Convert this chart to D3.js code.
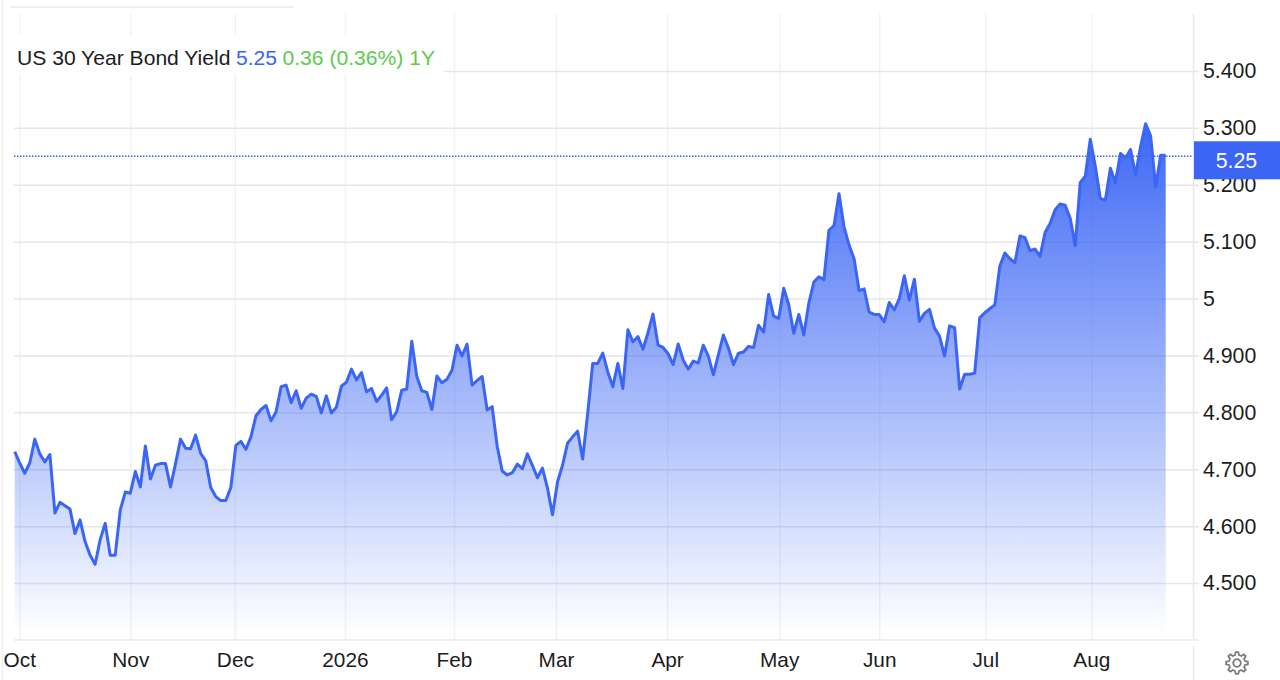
<!DOCTYPE html>
<html>
<head>
<meta charset="utf-8">
<title>US 30 Year Bond Yield</title>
<script src="https://cdn.jsdelivr.net/npm/d3@7"></script>
<style>
  html, body { margin: 0; padding: 0; background: #fff; }
  svg { display: block; }
  text { font-family: "Liberation Sans", Arial, sans-serif; }
  .domain { display: none; }
</style>
</head>
<body>
<svg id="chart" width="1280" height="680"></svg>
<script>
'use strict';

const yieldValues = [
  4.731, 4.711, 4.693, 4.711, 4.753, 4.727, 4.713, 4.726, 4.623, 4.642,
  4.636, 4.630, 4.587, 4.611, 4.573, 4.549, 4.533, 4.576, 4.605, 4.549,
  4.549, 4.628, 4.660, 4.658, 4.696, 4.669, 4.741, 4.683, 4.707, 4.710,
  4.710, 4.669, 4.710, 4.753, 4.737, 4.736, 4.760, 4.728, 4.715, 4.668,
  4.652, 4.645, 4.645, 4.668, 4.742, 4.749, 4.735, 4.757, 4.794, 4.805,
  4.812, 4.785, 4.801, 4.845, 4.848, 4.817, 4.838, 4.807, 4.825, 4.832,
  4.828, 4.799, 4.829, 4.799, 4.809, 4.846, 4.853, 4.876, 4.857, 4.870,
  4.836, 4.842, 4.819, 4.830, 4.843, 4.787, 4.801, 4.839, 4.841, 4.925,
  4.863, 4.838, 4.835, 4.805, 4.864, 4.852, 4.858, 4.874, 4.918, 4.899,
  4.920, 4.848, 4.856, 4.863, 4.804, 4.810, 4.740, 4.697, 4.690, 4.694,
  4.709, 4.701, 4.727, 4.707, 4.685, 4.702, 4.667, 4.620, 4.678, 4.707,
  4.746, 4.757, 4.767, 4.718, 4.798, 4.886, 4.886, 4.904, 4.871, 4.845,
  4.886, 4.842, 4.945, 4.924, 4.933, 4.911, 4.940, 4.973, 4.918, 4.914,
  4.903, 4.884, 4.920, 4.892, 4.876, 4.890, 4.887, 4.918, 4.899, 4.866,
  4.901, 4.936, 4.913, 4.884, 4.904, 4.906, 4.916, 4.914, 4.953, 4.941,
  5.007, 4.969, 4.965, 5.018, 4.989, 4.939, 4.972, 4.936, 4.992, 5.029,
  5.038, 5.033, 5.120, 5.128, 5.184, 5.126, 5.094, 5.070, 5.014, 5.017,
  4.976, 4.972, 4.972, 4.959, 4.993, 4.980, 5.000, 5.040, 4.997, 5.034,
  4.960, 4.974, 4.981, 4.948, 4.934, 4.899, 4.952, 4.949, 4.841, 4.867,
  4.867, 4.869, 4.966, 4.975, 4.982, 4.989, 5.057, 5.080, 5.070, 5.063,
  5.110, 5.107, 5.084, 5.087, 5.074, 5.116, 5.132, 5.156, 5.166, 5.164,
  5.141, 5.093, 5.204, 5.215, 5.280, 5.232, 5.176, 5.173, 5.229, 5.204,
  5.255, 5.247, 5.262, 5.217, 5.267, 5.307, 5.286, 5.196, 5.252, 5.252
];

// where each label sits along the trading days
const monthPositions = [0.9, 23, 43.8, 65.7, 87.4, 107.7, 129.8, 152.1, 172, 193.1, 214.2];
const monthLabels = ['Oct', 'Nov', 'Dec', '2026', 'Feb', 'Mar', 'Apr', 'May', 'Jun', 'Jul', 'Aug'];

const yieldTicks = [5.4, 5.3, 5.2, 5.1, 5, 4.9, 4.8, 4.7, 4.6, 4.5];
const yieldTickLabels = ['5.400', '5.300', '5.200', '5.100', '5', '4.900', '4.800', '4.700', '4.600', '4.500'];

const lastValue = 5.25;
const titleParts = ['US 30 Year Bond Yield', '5.25', '0.36 (0.36%) 1Y'];

const colors = {
  blue: '#3a65f5',
  green: '#5ccb4e',
  text: '#1c1c1e',
  gridH: '#e6e6e7',
  gridV: '#eef2f8',
  frame: '#e8e8e9'
};

const svg = d3.select('#chart');

const x = d3.scaleLinear().domain([0, yieldValues.length - 1]).range([14.7, 1165.7]);
const y = d3.scaleLinear().domain([4.4, 5.5]).range([640, 14]);

const defs = svg.append('defs');
const gradient = defs.append('linearGradient')
  .attr('id', 'fade')
  .attr('gradientUnits', 'userSpaceOnUse')
  .attr('x1', 0).attr('x2', 0)
  .attr('y1', y(d3.max(yieldValues)))
  .attr('y2', y(4.41));
gradient.append('stop').attr('offset', 0).attr('stop-color', colors.blue).attr('stop-opacity', 0.98);
gradient.append('stop').attr('offset', 1).attr('stop-color', colors.blue).attr('stop-opacity', 0);

// frame lines
svg.append('line').attr('x1', 2.5).attr('x2', 2.5).attr('y1', 0).attr('y2', 680)
  .attr('stroke', '#f0f0f1').attr('stroke-width', 1.5);
svg.append('line').attr('x1', 11).attr('x2', 293).attr('y1', 7).attr('y2', 7)
  .attr('stroke', '#dedfe0').attr('stroke-width', 1);
svg.append('line').attr('x1', 1193.5).attr('x2', 1193.5).attr('y1', 14).attr('y2', 640)
  .attr('stroke', colors.frame).attr('stroke-width', 1.5);
svg.append('line').attr('x1', 1193.5).attr('x2', 1193.5).attr('y1', 646).attr('y2', 680)
  .attr('stroke', colors.frame).attr('stroke-width', 1.5);

// grid comes from the axes, tick size runs across the plot
const xAxis = d3.axisBottom(x)
  .tickValues(monthPositions)
  .tickSize(-626)
  .tickPadding(12)
  .tickFormat((d, i) => monthLabels[i]);

const yAxis = d3.axisRight(y)
  .tickValues(yieldTicks)
  .tickSize(-1180)
  .tickPadding(-8)
  .tickFormat((d, i) => yieldTickLabels[i]);

const xGroup = svg.append('g').attr('transform', 'translate(0,640)').call(xAxis);
xGroup.selectAll('line').attr('stroke', colors.gridV).attr('stroke-width', 1.5);
xGroup.selectAll('text').attr('fill', colors.text).style('font-size', '20.8px');

const yGroup = svg.append('g').attr('transform', 'translate(1194,0)').call(yAxis);
yGroup.selectAll('line').attr('x2', -1180).attr('x1', 5).attr('stroke', colors.gridH).attr('stroke-width', 1.5);
yGroup.selectAll('text').attr('x', 9).attr('y', 0).attr('text-anchor', 'start').attr('fill', colors.text).style('font-size', '21.3px');

// baseline
svg.append('line').attr('x1', 14).attr('x2', 1191).attr('y1', 640).attr('y2', 640)
  .attr('stroke', colors.frame).attr('stroke-width', 1.5);
svg.append('line').attr('x1', 1193).attr('x2', 1199).attr('y1', 640).attr('y2', 640)
  .attr('stroke', colors.frame).attr('stroke-width', 1.5);

const area = d3.area()
  .x((d, i) => x(i))
  .y0(y(4.41))
  .y1(d => y(d));

const line = d3.line()
  .x((d, i) => x(i))
  .y(d => y(d));

svg.append('path').datum(yieldValues)
  .attr('d', area)
  .attr('fill', 'url(#fade)');

svg.append('path').datum(yieldValues)
  .attr('d', line)
  .attr('fill', 'none')
  .attr('stroke', colors.blue)
  .attr('stroke-width', 3)
  .attr('stroke-linejoin', 'round');

// last price line and flag
svg.append('line')
  .attr('x1', 14).attr('x2', 1193)
  .attr('y1', y(lastValue)).attr('y2', y(lastValue))
  .attr('stroke', colors.blue)
  .attr('stroke-width', 1.3)
  .attr('stroke-dasharray', '1.5 1.5');

svg.append('rect')
  .attr('x', 1194).attr('y', y(lastValue) - 15)
  .attr('width', 86).attr('height', 38)
  .attr('fill', colors.blue);

svg.append('text')
  .attr('x', 1236.5).attr('y', y(lastValue) + 12)
  .attr('text-anchor', 'middle')
  .attr('fill', '#fff')
  .style('font-size', '21.3px')
  .text(d3.format('.2f')(lastValue));

// title box hides the grid behind it
svg.append('rect')
  .attr('x', 14).attr('y', 35)
  .attr('width', 430).attr('height', 40)
  .attr('fill', '#fff');

const title = svg.append('text')
  .attr('x', 17).attr('y', 65)
  .style('font-size', '21.1px');
title.append('tspan').attr('fill', colors.text).text(titleParts[0]);
title.append('tspan').attr('fill', colors.blue).attr('dx', 5.5).text(titleParts[1]);
title.append('tspan').attr('fill', colors.green).attr('dx', 5.5).text(titleParts[2]);

// settings gear
const teeth = 8;
const gearPoints = [];
for (let k = 0; k < teeth; k++) {
  const a = (k / teeth) * 2 * Math.PI;
  const w = Math.PI / teeth;
  gearPoints.push([a - w * 0.62, 8.2], [a - w * 0.32, 11], [a + w * 0.32, 11], [a + w * 0.62, 8.2]);
}
const gear = svg.append('g').attr('transform', 'translate(1237,663)')
  .attr('fill', 'none').attr('stroke', '#7b7b7d').attr('stroke-width', 1.8);
gear.append('path')
  .attr('d', d3.lineRadial().angle(d => d[0]).radius(d => d[1]).curve(d3.curveLinearClosed)(gearPoints))
  .attr('stroke-linejoin', 'round');
gear.append('circle').attr('r', 3.8);
</script>
</body>
</html>
